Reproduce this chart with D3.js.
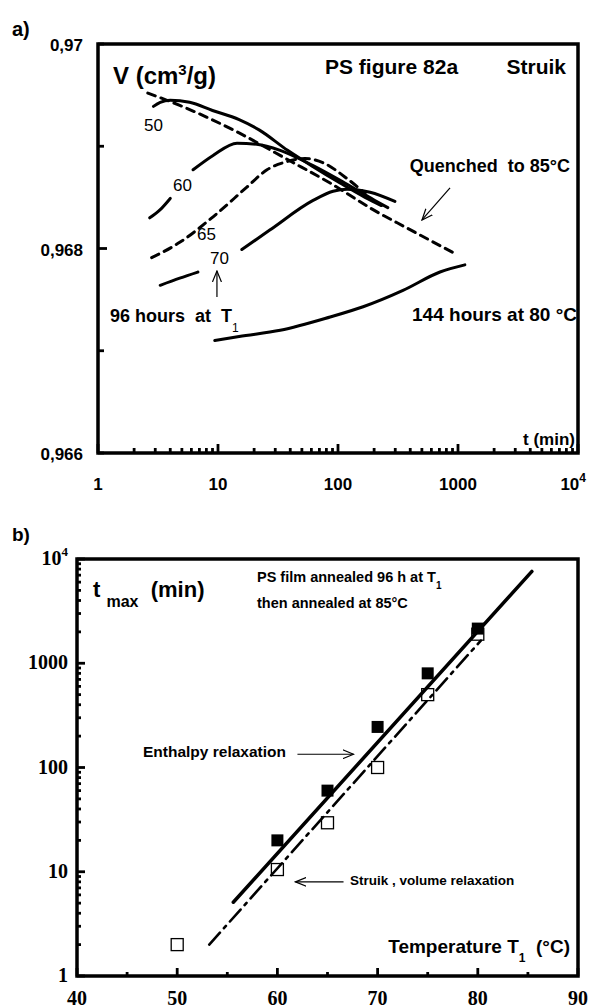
<!DOCTYPE html>
<html>
<head>
<meta charset="utf-8">
<script src="https://cdnjs.cloudflare.com/ajax/libs/d3/7.8.5/d3.min.js"></script>
<style>
  body { margin: 0; background: #fff; }
  text { font-family: "Liberation Sans", Arial, Helvetica, sans-serif; }
  .serif { font-family: "Liberation Serif", "Times New Roman", serif; }
</style>
</head>
<body>
<div id="chart"></div>
<script>
// ---- panel a) : specific volume V (cm3/g) vs time t (min) ----
var quenched85 = [[2.6,0.96952],[4.8,0.96940],[15,0.96913],[38,0.96887],[86,0.96864],[196,0.96838],[376,0.96820],[910,0.96796]];
var curve50 = [[2.9,0.96939],[3.3,0.96943],[4,0.96945],[5.8,0.96943],[9,0.96935],[15,0.96926],[22,0.96916],[38,0.96896],[62,0.96880],[104,0.96864],[168,0.96850],[230,0.96842]];
var curve60 = [[2.7,0.96830],[3.3,0.96838],[4,0.96849],null,[6.2,0.96877],[9.1,0.96891],[14.4,0.96903],[21,0.96902],[33,0.96896],[62,0.96881],[114,0.96864],[203,0.96847],[260,0.96840]];
var curve65 = [[2.8,0.96791],[4.8,0.96806],[9.1,0.96831],[17.4,0.96860],[25.6,0.96877],[37.6,0.96885],[53,0.96888],[78,0.96883],[114,0.96870],[168,0.96854]];
var curve70 = [[3.3,0.96764],[4.8,0.96771],[6.8,0.96777],null,[15.8,0.96799],[27,0.96818],[62,0.96847],[91,0.96856],[119,0.96858],[185,0.96855],[298,0.96846]];
var curve144h = [[9.4,0.96710],[15,0.96714],[33,0.96720],[86,0.96733],[162,0.96743],[348,0.96759],[708,0.96777],[1140,0.96784]];
var vTicks = [0.966, 0.967, 0.968, 0.969, 0.97];
var vLabels = {"0.966":"0,966", "0.968":"0,968", "0.97":"0,97"};
var tDecades = [1, 10, 100, 1000, 10000];

// ---- panel b) : t_max (min) vs annealing temperature T1 ----
var tempEnthalpy = [60, 65, 70, 75, 80];
var tmaxEnthalpy = [20, 60, 245, 800, 2150];
var tempStruik = [50, 60, 65, 70, 75, 80];
var tmaxStruik = [2, 10.5, 29.5, 100, 500, 1900];
var enthalpyFit = [[55.6, 5.1], [85.4, 7600]];
var struikFit = [[53.2, 2.0], [80.3, 1650]];
var tempTicks = [40, 50, 60, 70, 80, 90];
var tmaxDecades = [1, 10, 100, 1000, 10000];

var width = 590, height = 1008;
var svg = d3.select("#chart").append("svg")
  .attr("width", width)
  .attr("height", height);

var defs = svg.append("defs");
defs.append("marker")
  .attr("id", "arrow")
  .attr("viewBox", "0 0 12 10")
  .attr("refX", 11).attr("refY", 5)
  .attr("markerWidth", 12).attr("markerHeight", 10)
  .attr("markerUnits", "userSpaceOnUse")
  .attr("orient", "auto")
  .append("path")
  .attr("d", "M0,0.5 L11,5 L0,9.5")
  .attr("fill", "none")
  .attr("stroke", "#000")
  .attr("stroke-width", 1.2);

// minor log ticks 1..9 in every decade
function logTicks(decades) {
  var out = [];
  decades.slice(0, -1).forEach(function(d) {
    for (var k = 1; k < 10; k++) out.push(d * k);
  });
  out.push(decades[decades.length - 1]);
  return out;
}

// inward tick marks along x (bottom) or y (left)
function xTicks(g, scale, values, y0, len) {
  g.selectAll(null).data(values).enter().append("line")
    .attr("x1", function(d) { return scale(d); })
    .attr("x2", function(d) { return scale(d); })
    .attr("y1", y0)
    .attr("y2", function(d) { return y0 - len(d); })
    .attr("stroke", "#000").attr("stroke-width", 2.8);
}
function yTicks(g, scale, values, x0, len) {
  g.selectAll(null).data(values).enter().append("line")
    .attr("y1", function(d) { return scale(d); })
    .attr("y2", function(d) { return scale(d); })
    .attr("x1", x0)
    .attr("x2", function(d) { return x0 + len(d); })
    .attr("stroke", "#000").attr("stroke-width", 2.8);
}

// ================= panel a =================
var x1 = d3.scaleLog().domain([1, 1e4]).range([98, 578]);
var y1 = d3.scaleLinear().domain([0.966, 0.97]).range([453, 44]);

var ga = svg.append("g");

xTicks(ga, x1, logTicks(tDecades), 453, function(d) { return tDecades.indexOf(d) >= 0 ? 9 : 5; });
yTicks(ga, y1, vTicks, 98, function(d) { return Math.abs(d - 0.968) < 1e-9 ? 9 : 6; });

ga.append("rect")
  .attr("x", 98).attr("y", 44)
  .attr("width", 480).attr("height", 409)
  .attr("fill", "none").attr("stroke", "#000").attr("stroke-width", 3.5);

// tick labels
ga.selectAll(".vlab")
  .data(vTicks.filter(function(d) { return vLabels[String(d)]; }))
  .enter().append("text")
  .attr("x", 83)
  .attr("y", function(d) { return y1(d) + 7; })
  .attr("text-anchor", "end")
  .attr("font-size", 17).attr("font-weight", "bold")
  .text(function(d) { return vLabels[String(d)]; });

var tl = ga.selectAll(".tlab")
  .data(tDecades)
  .enter().append("text")
  .attr("x", function(d) { return x1(d); })
  .attr("y", 490)
  .attr("text-anchor", "middle")
  .attr("font-size", 17).attr("font-weight", "bold");
tl.filter(function(d) { return d < 1e4; }).text(function(d) { return d; });
var t4 = tl.filter(function(d) { return d === 1e4; }).attr("text-anchor", "end").attr("x", x1(1e4) + 8);
t4.append("tspan").text("10");
t4.append("tspan").attr("dy", -8).attr("font-size", 12).text("4");

// curves
var lineA = d3.line()
  .defined(function(d) { return d !== null; })
  .x(function(d) { return x1(d[0]); })
  .y(function(d) { return y1(d[1]); })
  .curve(d3.curveMonotoneX);

var curvesA = [
  { data: curve144h, dash: null },
  { data: curve70, dash: null },
  { data: curve65, dash: "8,6" },
  { data: curve60, dash: null },
  { data: curve50, dash: null },
  { data: quenched85, dash: "8,6" }
];
ga.selectAll(".curveA")
  .data(curvesA)
  .enter().append("path")
  .attr("d", function(d) { return lineA(d.data); })
  .attr("fill", "none")
  .attr("stroke", "#000")
  .attr("stroke-width", 3)
  .attr("stroke-linecap", "round")
  .attr("stroke-dasharray", function(d) { return d.dash; });

// arrows
ga.append("line")
  .attr("x1", x1(858)).attr("y1", y1(0.968592))
  .attr("x2", x1(501)).attr("y2", y1(0.968279))
  .attr("stroke", "#000").attr("stroke-width", 1.2)
  .attr("marker-end", "url(#arrow)");
ga.append("line")
  .attr("x1", x1(9.8)).attr("y1", y1(0.967526))
  .attr("x2", x1(9.8)).attr("y2", y1(0.96778))
  .attr("stroke", "#000").attr("stroke-width", 1.2)
  .attr("marker-end", "url(#arrow)");

// annotations
ga.append("text").attr("x", 12).attr("y", 36).attr("font-size", 20).attr("font-weight", "bold").text("a)");
var vt = ga.append("text").attr("x", 113).attr("y", 84).attr("font-size", 24).attr("font-weight", "bold");
vt.append("tspan").text("V (cm");
vt.append("tspan").attr("dy", -9).attr("font-size", 15).text("3");
vt.append("tspan").attr("dy", 9).text("/g)");
ga.append("text").attr("x", 325).attr("y", 74).attr("font-size", 21).attr("font-weight", "bold").text("PS figure 82a");
ga.append("text").attr("x", 566).attr("y", 74).attr("text-anchor", "end").attr("font-size", 21).attr("font-weight", "bold").text("Struik");
ga.append("text").attr("x", 570).attr("y", 172).attr("text-anchor", "end").attr("font-size", 18).attr("font-weight", "bold")
  .style("white-space", "pre").text("Quenched  to 85\u00b0C");
[["50", 144, 131], ["60", 173, 191], ["65", 197, 240], ["70", 210, 264]].forEach(function(l) {
  ga.append("text").attr("x", l[1]).attr("y", l[2]).attr("font-size", 17).text(l[0]);
});
var h96 = ga.append("text").attr("x", 110).attr("y", 322).attr("font-size", 18).attr("font-weight", "bold").style("white-space", "pre");
h96.append("tspan").text("96 hours  at  T");
h96.append("tspan").attr("dy", 10).attr("font-size", 12).attr("font-weight", "normal").text("1");
ga.append("text").attr("x", 577).attr("y", 321).attr("text-anchor", "end").attr("font-size", 19).attr("font-weight", "bold")
  .text("144 hours at 80 \u00b0C");
ga.append("text").attr("x", 575).attr("y", 445).attr("text-anchor", "end").attr("font-size", 17).attr("font-weight", "bold").text("t (min)");

// ================= panel b =================
var x2 = d3.scaleLinear().domain([40, 90]).range([77, 578]);
var y2 = d3.scaleLog().domain([1, 1e4]).range([976, 559]);

var gb = svg.append("g");

xTicks(gb, x2, d3.range(40, 91, 5), 976, function(d) { return d % 10 === 0 ? 8 : 4; });
yTicks(gb, y2, logTicks(tmaxDecades), 77, function(d) { return tmaxDecades.indexOf(d) >= 0 ? 8 : 4; });

gb.append("rect")
  .attr("x", 77).attr("y", 559)
  .attr("width", 501).attr("height", 417)
  .attr("fill", "none").attr("stroke", "#000").attr("stroke-width", 3.5);

gb.selectAll(".xlab")
  .data(tempTicks)
  .enter().append("text")
  .attr("class", "serif")
  .attr("x", function(d) { return x2(d); })
  .attr("y", 1005)
  .attr("text-anchor", "middle")
  .attr("font-size", 20).attr("font-weight", "bold")
  .text(function(d) { return d; });

var yl = gb.selectAll(".ylab")
  .data(tmaxDecades)
  .enter().append("text")
  .attr("class", "serif")
  .attr("x", 68)
  .attr("y", function(d) { return y2(d) + 6; })
  .attr("text-anchor", "end")
  .attr("font-size", 20).attr("font-weight", "bold");
yl.filter(function(d) { return d < 1e4; }).text(function(d) { return d; });
var y4 = yl.filter(function(d) { return d === 1e4; }).attr("y", y2(1e4) + 6);
y4.append("tspan").text("10");
y4.append("tspan").attr("dy", -9).attr("font-size", 13).text("4");

// fit lines
var lineB = d3.line()
  .x(function(d) { return x2(d[0]); })
  .y(function(d) { return y2(d[1]); });

gb.append("path")
  .attr("d", lineB(struikFit))
  .attr("fill", "none").attr("stroke", "#000").attr("stroke-width", 2.6)
  .attr("stroke-linecap", "round")
  .attr("stroke-dasharray", "16,6,3,6");
gb.append("path")
  .attr("d", lineB(enthalpyFit))
  .attr("fill", "none").attr("stroke", "#000").attr("stroke-width", 3.5)
  .attr("stroke-linecap", "round");

var sq = 12;
gb.selectAll(".open")
  .data(tempStruik)
  .enter().append("rect")
  .attr("x", function(d) { return x2(d) - sq / 2; })
  .attr("y", function(d, i) { return y2(tmaxStruik[i]) - sq / 2; })
  .attr("width", sq).attr("height", sq)
  .attr("fill", "none").attr("stroke", "#000").attr("stroke-width", 1.3);
gb.selectAll(".filled")
  .data(tempEnthalpy)
  .enter().append("rect")
  .attr("x", function(d) { return x2(d) - sq / 2; })
  .attr("y", function(d, i) { return y2(tmaxEnthalpy[i]) - sq / 2; })
  .attr("width", sq).attr("height", sq)
  .attr("fill", "#000");

// arrows
gb.append("line")
  .attr("x1", x2(62)).attr("y1", y2(134))
  .attr("x2", x2(67.6)).attr("y2", y2(134))
  .attr("stroke", "#000").attr("stroke-width", 1.2)
  .attr("marker-end", "url(#arrow)");
gb.append("line")
  .attr("x1", x2(66.6)).attr("y1", y2(8.0))
  .attr("x2", x2(61.8)).attr("y2", y2(8.0))
  .attr("stroke", "#000").attr("stroke-width", 1.2)
  .attr("marker-end", "url(#arrow)");

// annotations
gb.append("text").attr("x", 12).attr("y", 541).attr("font-size", 19).attr("font-weight", "bold").text("b)");
var tm = gb.append("text").attr("x", 93).attr("y", 597).attr("font-size", 22).attr("font-weight", "bold").style("white-space", "pre");
tm.append("tspan").text("t ");
tm.append("tspan").attr("dy", 10).attr("font-size", 16).text("max");
tm.append("tspan").attr("dy", -10).text("  (min)");
var ps = gb.append("text").attr("x", 257).attr("y", 582).attr("font-size", 14.5).attr("font-weight", "bold");
ps.append("tspan").text("PS film annealed 96 h at T");
ps.append("tspan").attr("dy", 7).attr("font-size", 10).text("1");
gb.append("text").attr("x", 257).attr("y", 608).attr("font-size", 14.5).attr("font-weight", "bold").text("then annealed at 85\u00b0C");
gb.append("text").attr("x", 143).attr("y", 757).attr("font-size", 15.5).attr("font-weight", "bold").text("Enthalpy relaxation");
gb.append("text").attr("x", 350).attr("y", 885).attr("font-size", 13.5).attr("font-weight", "bold").text("Struik , volume relaxation");
var tt = gb.append("text").attr("x", 570).attr("y", 953).attr("text-anchor", "end").attr("font-size", 19).attr("font-weight", "bold").style("white-space", "pre");
tt.append("tspan").text("Temperature T");
tt.append("tspan").attr("dy", 9).attr("font-size", 12).text("1");
tt.append("tspan").attr("dy", -9).text("  (\u00b0C)");
</script>
</body>
</html>
